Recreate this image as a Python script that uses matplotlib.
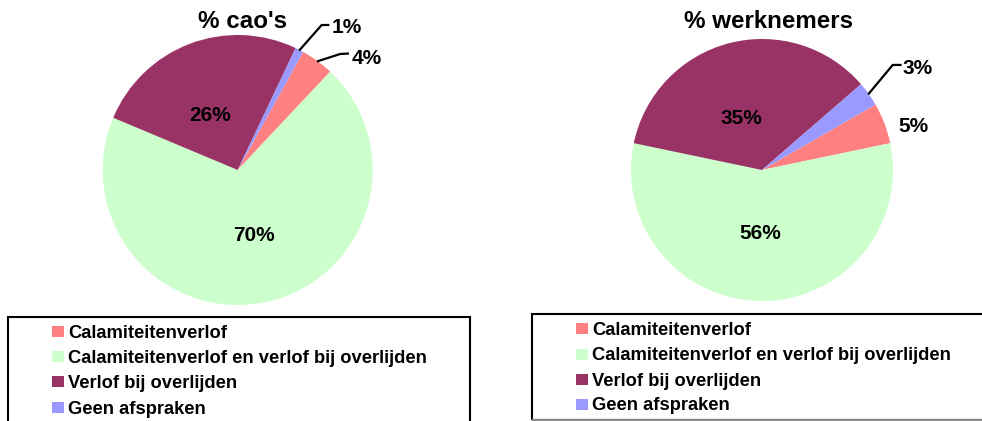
import numpy as np
import matplotlib
matplotlib.use("Agg")
import matplotlib.pyplot as plt
from matplotlib.patches import Rectangle

# --- data ---
categories = ["Calamiteitenverlof",
              "Calamiteitenverlof en verlof bij overlijden",
              "Verlof bij overlijden",
              "Geen afspraken"]
cao_pct = [4, 70, 26, 1]
werknemers_pct = [5, 56, 35, 3]
titles = ["% cao's", "% werknemers"]
colors = ["#FF8080", "#CCFFCC", "#993366", "#9999FF"]

plt.rcParams["font.family"] = ["Liberation Sans", "DejaVu Sans"]
plt.rcParams["font.weight"] = "bold"

W, H = 982, 421
fig = plt.figure(figsize=(W / 100, H / 100), dpi=100)


def fx(x):
    return x / W


def fy(y):
    return 1 - y / H


# pie layout in pixels: centre, radius, first-slice angle
pies = [
    dict(vals=cao_pct, title=titles[0], cx=237.7, cy=170, r=135, start=61,
         title_xy=(243, 19.5),
         # label positions in units of radius, plus optional leader line points
         labels=[(0.956, 0.839, [(0.758, 0.859), (0.824, 0.863)]),
                 (0.117, -0.474, None),
                 (-0.205, 0.422, None),
                 (0.810, 1.069, [(0.622, 1.074), (0.679, 1.074)])]),
    dict(vals=werknemers_pct, title=titles[1], cx=762, cy=170, r=131, start=30,
         title_xy=(769, 19),
         labels=[(1.160, 0.344, None),
                 (-0.011, -0.473, None),
                 (-0.160, 0.412, None),
                 (1.189, 0.789, [(0.998, 0.802), (1.066, 0.802)])]),
]

for p in pies:
    cx, cy, r = p["cx"], p["cy"], p["r"]
    ax = fig.add_axes([fx(cx - r), fy(cy + r), 2 * r / W, 2 * r / H])
    wedges, _ = ax.pie(p["vals"], colors=colors, startangle=p["start"],
                       counterclock=False,
                       wedgeprops=dict(linewidth=0, clip_on=False))
    ax.set_xlim(-1, 1)
    ax.set_ylim(-1, 1)
    ax.set_aspect("equal")
    ax.axis("off")

    for w, v, (lx, ly, leader) in zip(wedges, p["vals"], p["labels"]):
        ax.text(lx, ly, f"{v}%", ha="center", va="center_baseline",
                fontsize=15, fontweight="bold", clip_on=False)
        if leader is not None:
            mid = np.deg2rad((w.theta1 + w.theta2) / 2)
            xs = [np.cos(mid) * 0.995] + [pt[0] for pt in leader]
            ys = [np.sin(mid) * 0.995] + [pt[1] for pt in leader]
            ax.plot(xs, ys, color="black", lw=1.6, clip_on=False,
                    solid_capstyle="butt")

    tx, ty = p["title_xy"]
    fig.text(fx(tx), fy(ty), p["title"], ha="center", va="center_baseline",
             fontsize=17.4, fontweight="bold")

# legend boxes (cut off by the figure edge as in the original)
fig.patches.append(Rectangle((fx(7.5), fy(440)), (470 - 7.5) / W, (440 - 316.5) / H,
                             transform=fig.transFigure, fill=False,
                             edgecolor="black", lw=1.5, clip_on=False))
fig.patches.append(Rectangle((fx(531.5), fy(419.5)), (1000 - 531.5) / W, (419.5 - 314) / H,
                             transform=fig.transFigure, fill=False,
                             edgecolor="black", lw=1.5, clip_on=False))
# lighter bottom edge of the right box
fig.lines.append(plt.Line2D([fx(532.5), fx(990)], [fy(419.5), fy(419.5)],
                            transform=fig.transFigure, color="#888888", lw=1.6))

legend_pos = [(52, [331, 356.5, 381.7, 407.3]),
              (576, [328.3, 354, 379, 404])]
for x0, rows in legend_pos:
    for lab, col, yc in zip(categories, colors, rows):
        fig.patches.append(Rectangle((fx(x0), fy(yc + 5.5)), 12 / W, 11 / H,
                                     transform=fig.transFigure,
                                     facecolor=col, edgecolor="none"))
        fig.text(fx(x0 + 16.5), fy(yc), lab, ha="left", va="center_baseline",
                 fontsize=13.2, fontweight="bold")

fig.savefig("out.png", dpi=100)
